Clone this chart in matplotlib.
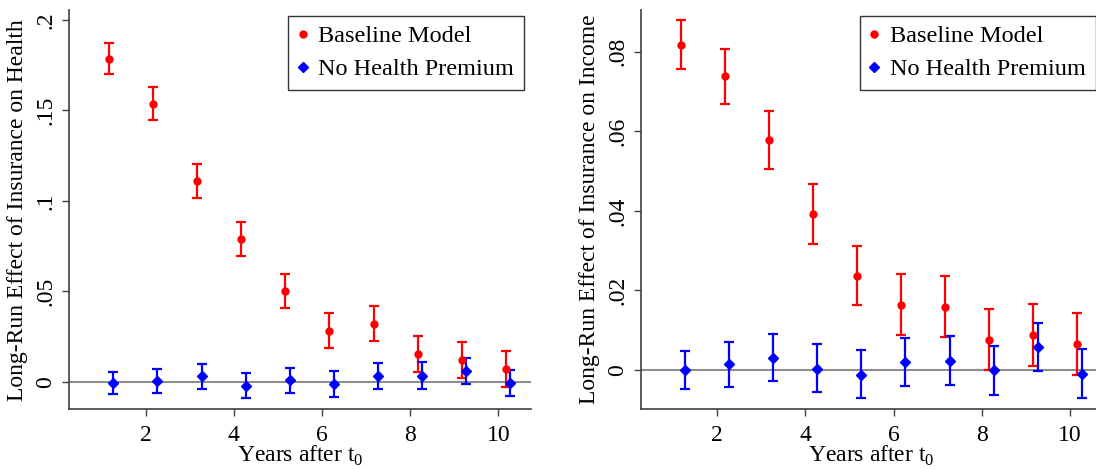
#!/usr/bin/env python3
import matplotlib
matplotlib.use("Agg")
import matplotlib.pyplot as plt
from matplotlib.lines import Line2D
import numpy as np

plt.rcParams['font.family'] = ['Liberation Serif', 'DejaVu Serif']
plt.rcParams['mathtext.fontset'] = 'custom'
plt.rcParams['mathtext.rm'] = 'Liberation Serif'

years = np.arange(1, 11)

# health panel: point estimate, lower and upper bound of CI
health_base = [0.1786, 0.1538, 0.1112, 0.0789, 0.0501, 0.0280, 0.0321, 0.0151, 0.0120, 0.0070]
health_base_lo = [0.1702, 0.1447, 0.1018, 0.0695, 0.0407, 0.0184, 0.0223, 0.0052, 0.0020, -0.0031]
health_base_hi = [0.1871, 0.1628, 0.1204, 0.0885, 0.0597, 0.0378, 0.0420, 0.0253, 0.0219, 0.0168]
health_noprem = [-0.0007, 0.0004, 0.0029, -0.0022, 0.0007, -0.0013, 0.0031, 0.0033, 0.0061, -0.0009]
health_noprem_lo = [-0.0068, -0.0065, -0.0039, -0.0092, -0.0065, -0.0083, -0.0039, -0.0039, -0.0013, -0.0079]
health_noprem_hi = [0.0052, 0.0068, 0.0098, 0.0048, 0.0077, 0.0061, 0.0105, 0.0107, 0.0133, 0.0063]

# income panel
income_base = [0.0818, 0.0738, 0.0577, 0.0391, 0.0237, 0.0164, 0.0159, 0.0076, 0.0089, 0.0065]
income_base_lo = [0.0756, 0.0668, 0.0504, 0.0317, 0.0163, 0.0089, 0.0083, 0.0000, 0.0011, -0.0014]
income_base_hi = [0.0879, 0.0808, 0.0650, 0.0467, 0.0312, 0.0240, 0.0235, 0.0153, 0.0165, 0.0142]
income_noprem = [0.0000, 0.0015, 0.0031, 0.0003, -0.0012, 0.0021, 0.0023, 0.0000, 0.0057, -0.0010]
income_noprem_lo = [-0.0049, -0.0042, -0.0027, -0.0056, -0.0071, -0.0040, -0.0038, -0.0063, -0.0003, -0.0070]
income_noprem_hi = [0.0048, 0.0070, 0.0091, 0.0064, 0.0049, 0.0081, 0.0085, 0.0061, 0.0119, 0.0052]

base_shift = 0.17
noprem_shift = 0.27

xticks = [2, 4, 6, 8, 10]
health_ticks = [0, 0.05, 0.1, 0.15, 0.2]
health_ticklabels = ['0', '.05', '.1', '.15', '.2']
income_ticks = [0, 0.02, 0.04, 0.06, 0.08]
income_ticklabels = ['0', '.02', '.04', '.06', '.08']

RED = '#ff0000'
BLUE = '#0000ff'
FS = 17
LEG_FS = 17.5


def draw_panel(ax, base, base_lo, base_hi, nop, nop_lo, nop_hi, ylim, yt, ytl, ylabel):
    ax.axhline(0, color='#808080', lw=1.3, zorder=1)
    for est, lo, hi, shift, col, mk, ms in [
            (base, base_lo, base_hi, base_shift, RED, 'o', 5.0),
            (nop, nop_lo, nop_hi, noprem_shift, BLUE, 'D', 5.2)]:
        est = np.array(est)
        err = np.vstack([est - np.array(lo), np.array(hi) - est])
        ax.errorbar(years + shift, est, yerr=err, fmt=mk, color=col, ms=ms,
                    ecolor=col, elinewidth=1.6, capsize=3.5, capthick=1.6, zorder=3)
    ax.set_xlim(0.265, 10.74)
    ax.set_ylim(*ylim)
    ax.set_xticks(xticks)
    ax.set_xticklabels([str(t) for t in xticks], fontsize=FS)
    ax.set_yticks(yt)
    ax.set_yticklabels(ytl, fontsize=FS, rotation=90, va='center')
    for s in ['top', 'right']:
        ax.spines[s].set_visible(False)
    for s in ['left', 'bottom']:
        ax.spines[s].set_color('#404040')
        ax.spines[s].set_linewidth(1.2)
    ax.tick_params(axis='both', direction='out', length=5, width=1.0, color='#404040')
    ax.tick_params(axis='x', pad=6)
    ax.tick_params(axis='y', pad=4)
    ax.set_xlabel('Years after t$_0$', fontsize=FS)
    ax.xaxis.set_label_coords(0.5, -0.086)
    ax.set_ylabel(ylabel, fontsize=FS)
    ax.yaxis.set_label_coords(-0.088, 0.5)
    handles = [Line2D([], [], ls='none', marker='o', color=RED, ms=5),
               Line2D([], [], ls='none', marker='D', color=BLUE, ms=4.8)]
    leg = ax.legend(handles, ['Baseline Model', 'No Health Premium'], loc='upper left',
                    bbox_to_anchor=(0.474, 0.986), fontsize=LEG_FS, frameon=True,
                    fancybox=False, edgecolor='black', handlelength=0.4,
                    handletextpad=0.45, borderpad=0.4, borderaxespad=0,
                    labelspacing=0.45)
    leg.get_frame().set_linewidth(1.0)


fig = plt.figure(figsize=(10.96, 4.69), dpi=100)
ax1 = fig.add_axes([0.063, 0.1273, 0.4215, 0.8514])
ax2 = fig.add_axes([0.5845, 0.1273, 0.4215, 0.8514])

draw_panel(ax1, health_base, health_base_lo, health_base_hi,
           health_noprem, health_noprem_lo, health_noprem_hi,
           (-0.0153, 0.2056), health_ticks, health_ticklabels,
           'Long-Run Effect of Insurance on Health')
draw_panel(ax2, income_base, income_base_lo, income_base_hi,
           income_noprem, income_noprem_lo, income_noprem_hi,
           (-0.0099, 0.0905), income_ticks, income_ticklabels,
           'Long-Run Effect of Insurance on Income')

fig.savefig('out.png', dpi=100)
